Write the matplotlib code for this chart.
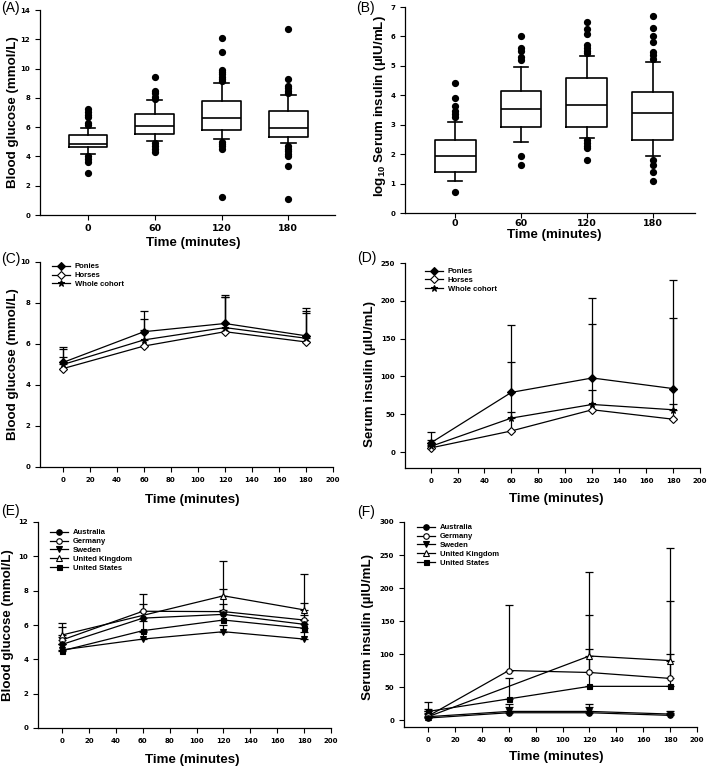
import matplotlib
matplotlib.use('Agg')
import matplotlib.pyplot as plt
import numpy as np

plt.rcParams['font.family'] = ['Liberation Sans', 'DejaVu Sans']
plt.rcParams['mathtext.fontset'] = 'custom'
plt.rcParams['mathtext.rm'] = 'Liberation Sans:bold'
plt.rcParams['mathtext.it'] = 'Liberation Sans:bold'
plt.rcParams['mathtext.bf'] = 'Liberation Sans:bold'

# ---------------- data ----------------
time_cats = ['0', '60', '120', '180']

# (A) blood glucose box plots
glc_q1 = [4.65, 5.50, 5.80, 5.35]
glc_med = [4.83, 6.10, 6.60, 5.92]
glc_q3 = [5.45, 6.90, 7.80, 7.10]
glc_lo = [4.20, 5.08, 5.22, 4.90]
glc_hi = [5.92, 7.85, 9.00, 8.20]
glc_fliers = [
    [7.27, 7.05, 6.85, 6.70, 6.30, 6.15, 4.00, 3.80, 3.65, 2.90],
    [9.43, 8.45, 8.30, 8.05, 7.95, 4.90, 4.70, 4.50, 4.28],
    [12.12, 11.12, 9.90, 9.75, 9.60, 9.45, 9.30, 9.15, 5.00, 4.85, 4.68, 4.52, 1.20],
    [12.70, 9.30, 8.80, 8.65, 8.50, 8.32, 4.72, 4.52, 4.35, 4.18, 4.05, 3.38, 1.10],
]

# (B) log10 serum insulin box plots
ins_q1 = [1.38, 2.93, 2.93, 2.47]
ins_med = [1.94, 3.53, 3.68, 3.39]
ins_q3 = [2.47, 4.14, 4.58, 4.12]
ins_lo = [1.10, 2.40, 2.56, 1.94]
ins_hi = [3.10, 4.95, 5.35, 5.12]
ins_fliers = [
    [4.42, 3.92, 3.63, 3.45, 3.37, 3.25, 0.70],
    [6.02, 5.60, 5.50, 5.30, 5.20, 1.95, 1.62],
    [6.50, 6.25, 6.08, 5.72, 5.62, 5.52, 5.42, 2.47, 2.38, 2.29, 2.20, 1.80],
    [6.68, 6.28, 6.02, 5.80, 5.48, 5.38, 5.22, 1.79, 1.62, 1.38, 1.10],
]

time_min = [0, 60, 120, 180]

# (C) blood glucose: ponies / horses / whole cohort (mean, upper SD)
ponies_glc = [5.10, 6.60, 7.00, 6.40]
ponies_glc_sd = [0.77, 1.02, 1.37, 1.37]
horses_glc = [4.80, 5.90, 6.60, 6.10]
horses_glc_sd = [0.58, 0.80, 1.68, 1.43]
whole_glc = [5.00, 6.20, 6.80, 6.28]
whole_glc_sd = [0.74, 1.00, 1.49, 1.33]

# (D) serum insulin: ponies / horses / whole cohort
ponies_ins = [12.0, 79.0, 98.0, 84.0]
ponies_ins_sd = [14.0, 89.0, 106.0, 143.0]
horses_ins = [5.5, 28.0, 56.0, 43.5]
horses_ins_sd = [4.5, 25.5, 26.0, 20.0]
whole_ins = [7.5, 45.0, 63.0, 56.0]
whole_ins_sd = [8.5, 74.5, 106.0, 121.0]

# (E) blood glucose by country (None = no sample at that time)
countries = ['Australia', 'Germany', 'Sweden', 'United Kingdom', 'United States']
country_glc = {
    'Australia': [4.87, 6.40, 6.62, 6.04],
    'Germany': [5.13, 6.80, 6.78, 6.29],
    'Sweden': [4.55, 5.18, 5.61, 5.18],
    'United Kingdom': [5.42, None, 7.70, 6.88],
    'United States': [4.50, 5.67, 6.29, 5.81],
}
country_glc_sd = {
    'Australia': [0.45, 0.80, 0.60, 0.55],
    'Germany': [0.77, 1.00, 1.32, 1.02],
    'Sweden': [0.35, 0.40, 0.40, 0.40],
    'United Kingdom': [0.68, None, 2.04, 2.08],
    'United States': [0.40, 0.55, 0.60, 0.50],
}

# (F) serum insulin by country
country_ins = {
    'Australia': [3.0, 11.0, 11.0, 7.0],
    'Germany': [6.0, 75.0, 72.0, 63.0],
    'Sweden': [5.0, 13.0, 13.0, 9.0],
    'United Kingdom': [5.0, None, 97.0, 90.0],
    'United States': [13.0, 32.0, 51.0, 51.0],
}
country_ins_sd = {
    'Australia': [6.0, 9.0, 9.0, 3.0],
    'Germany': [10.0, 100.0, 87.0, 117.0],
    'Sweden': [6.0, 11.0, 11.0, 5.0],
    'United Kingdom': [8.0, None, 127.0, 170.0],
    'United States': [14.0, 31.0, 56.0, 49.0],
}

# ---------------- styling ----------------
W, H = 709, 767
fig = plt.figure(figsize=(W / 100, H / 100), dpi=100)

BOLD = dict(family='Liberation Sans', weight='bold')
TICKFONT = 'DejaVu Sans'


def px_axes(left, top, right, bottom):
    return fig.add_axes([left / W, 1 - bottom / H, (right - left) / W, (bottom - top) / H])


def style(ax, xfs, yfs, xpad=3.5):
    for s in ['top', 'right']:
        ax.spines[s].set_visible(False)
    for s in ['left', 'bottom']:
        ax.spines[s].set_linewidth(0.9)
    ax.tick_params(direction='out', length=3.5, width=0.8)
    ax.tick_params(axis='x', pad=xpad)
    for lab in ax.get_xticklabels():
        lab.set_fontfamily(TICKFONT)
        lab.set_fontweight('bold')
        lab.set_fontsize(xfs)
    for lab in ax.get_yticklabels():
        lab.set_fontfamily(TICKFONT)
        lab.set_fontweight('bold')
        lab.set_fontsize(yfs)


def labels(ax, xl, yl, xpos, ypos):
    ax.set_xlabel(xl, fontsize=9.6, **BOLD)
    ax.set_ylabel(yl, fontsize=9.6, **BOLD)
    ax.xaxis.label.set_va('center')
    ax.yaxis.label.set_va('center')
    ax.xaxis.set_label_coords(*xpos)
    ax.yaxis.set_label_coords(*ypos)


def box_panel(ax, q1, med, q3, lo, hi, fl, width):
    stats = []
    for i in range(len(time_cats)):
        stats.append(dict(med=med[i], q1=q1[i], q3=q3[i], whislo=lo[i], whishi=hi[i],
                          fliers=np.array(fl[i]), label=time_cats[i]))
    lp = dict(color='black', linewidth=1.2)
    ax.bxp(stats, positions=range(len(stats)), widths=width, capwidths=0.22,
           boxprops=lp, medianprops=lp, whiskerprops=lp, capprops=lp,
           flierprops=dict(marker='o', markerfacecolor='black', markeredgecolor='black',
                           markersize=4.2, linestyle='none'),
           manage_ticks=False)
    ax.set_xticks(range(len(time_cats)))
    ax.set_xticklabels(time_cats)


def series(ax, y, sd, marker, mfc, ms, label, z=3):
    keep = [i for i, v in enumerate(y) if v is not None]
    t = [time_min[i] for i in keep]
    yy = [y[i] for i in keep]
    ss = [sd[i] for i in keep]
    ax.errorbar(t, yy, yerr=[np.zeros(len(ss)), ss], fmt='none', ecolor='black',
                elinewidth=0.9, capsize=2.6, capthick=0.9, zorder=2)
    line, = ax.plot(t, yy, color='black', lw=0.9, marker=marker, mfc=mfc, mec='black',
                    mew=0.8, ms=ms, label=label, zorder=z)
    return line


def legend(ax, anchor, handles=None):
    kw = dict(loc='upper left', bbox_to_anchor=anchor, frameon=False,
              prop=dict(family='Liberation Sans', weight='bold', size=5.5),
              handlelength=2.4, handletextpad=0.6, labelspacing=0.2,
              borderpad=0, borderaxespad=0)
    if handles is not None:
        ax.legend(handles=handles, **kw)
    else:
        ax.legend(**kw)


# (A)
axA = px_axes(40, 10, 335, 215)
box_panel(axA, glc_q1, glc_med, glc_q3, glc_lo, glc_hi, glc_fliers, 0.58)
axA.set_xlim(-0.72, 3.7)
axA.set_ylim(0, 14)
axA.set_yticks(np.arange(0, 15, 2))
style(axA, 6.8, 5.0, xpad=3.0)
labels(axA, 'Time (minutes)', 'Blood glucose (mmol/L)', (0.52, -0.135), (-0.092, 0.5))

# (B)
axB = px_axes(405, 7, 695, 213)
box_panel(axB, ins_q1, ins_med, ins_q3, ins_lo, ins_hi, ins_fliers, 0.62)
axB.set_xlim(-0.76, 3.64)
axB.set_ylim(0, 7)
axB.set_yticks(np.arange(0, 8, 1))
style(axB, 6.8, 5.0, xpad=1.0)
labels(axB, 'Time (minutes)', r'log$_{10}$ Serum insulin (µIU/mL)', (0.514, -0.105), (-0.086, 0.52))

# (C)
axC = px_axes(40, 262, 333, 467)
series(axC, ponies_glc, ponies_glc_sd, 'D', 'black', 4.3, 'Ponies')
series(axC, horses_glc, horses_glc_sd, 'D', 'white', 4.3, 'Horses')
series(axC, whole_glc, whole_glc_sd, '*', 'black', 4.5, 'Whole cohort')
axC.set_xlim(-17, 200)
axC.set_ylim(0, 10)
axC.set_xticks(np.arange(0, 201, 20))
axC.set_yticks(np.arange(0, 11, 2))
style(axC, 5.0, 5.0)
labels(axC, 'Time (minutes)', 'Blood glucose (mmol/L)', (0.519, -0.161), (-0.092, 0.5))
legend(axC, (0.041, 0.995))

# (D)
axD = px_axes(405, 263, 700, 468)
series(axD, ponies_ins, ponies_ins_sd, 'D', 'black', 4.3, 'Ponies')
series(axD, horses_ins, horses_ins_sd, 'D', 'white', 4.3, 'Horses')
series(axD, whole_ins, whole_ins_sd, '*', 'black', 4.5, 'Whole cohort')
axD.set_xlim(-19, 200)
axD.set_ylim(-21, 250)
axD.set_xticks(np.arange(0, 201, 20))
axD.set_yticks(np.arange(0, 251, 50))
style(axD, 5.0, 5.0)
labels(axD, 'Time (minutes)', 'Serum insulin (µIU/mL)', (0.514, -0.152), (-0.119, 0.46))
legend(axD, (0.068, 0.976))

# country markers
cmark = {
    'Australia': ('o', 'black', 4.0),
    'Germany': ('o', 'white', 4.0),
    'Sweden': ('v', 'black', 4.0),
    'United Kingdom': ('^', 'white', 4.0),
    'United States': ('s', 'black', 3.6),
}

# (E)
axE = px_axes(38, 522, 331, 728)
hE = []
for k, c in enumerate(countries):
    m, f, s = cmark[c]
    hE.append(series(axE, country_glc[c], country_glc_sd[c], m, f, s, c, z=8 - k))
axE.set_xlim(-18, 200)
axE.set_ylim(0, 12)
axE.set_xticks(np.arange(0, 201, 20))
axE.set_yticks(np.arange(0, 13, 2))
style(axE, 5.0, 5.0)
labels(axE, 'Time (minutes)', 'Blood glucose (mmol/L)', (0.526, -0.155), (-0.102, 0.5))
legend(axE, (0.041, 0.966), hE)

# (F)
axF = px_axes(404, 522, 697, 727)
hF = []
for k, c in enumerate(countries):
    m, f, s = cmark[c]
    hF.append(series(axF, country_ins[c], country_ins_sd[c], m, f, s, c, z=8 - k))
axF.set_xlim(-18, 200)
axF.set_ylim(-10.6, 300)
axF.set_xticks(np.arange(0, 201, 20))
axF.set_yticks(np.arange(0, 301, 50))
style(axF, 5.0, 5.0)
labels(axF, 'Time (minutes)', 'Serum insulin (µIU/mL)', (0.521, -0.145), (-0.123, 0.488))
legend(axF, (0.044, 0.99), hF)

# panel letters
for txt, x, y in [('(A)', 1, 8), ('(B)', 356, 8), ('(C)', 1, 259),
                  ('(D)', 357, 258), ('(E)', 1, 511), ('(F)', 357, 512)]:
    fig.text(x / W, 1 - y / H, txt, fontsize=10, family='Liberation Sans',
             ha='left', va='center')

fig.savefig('out.png', dpi=100)
